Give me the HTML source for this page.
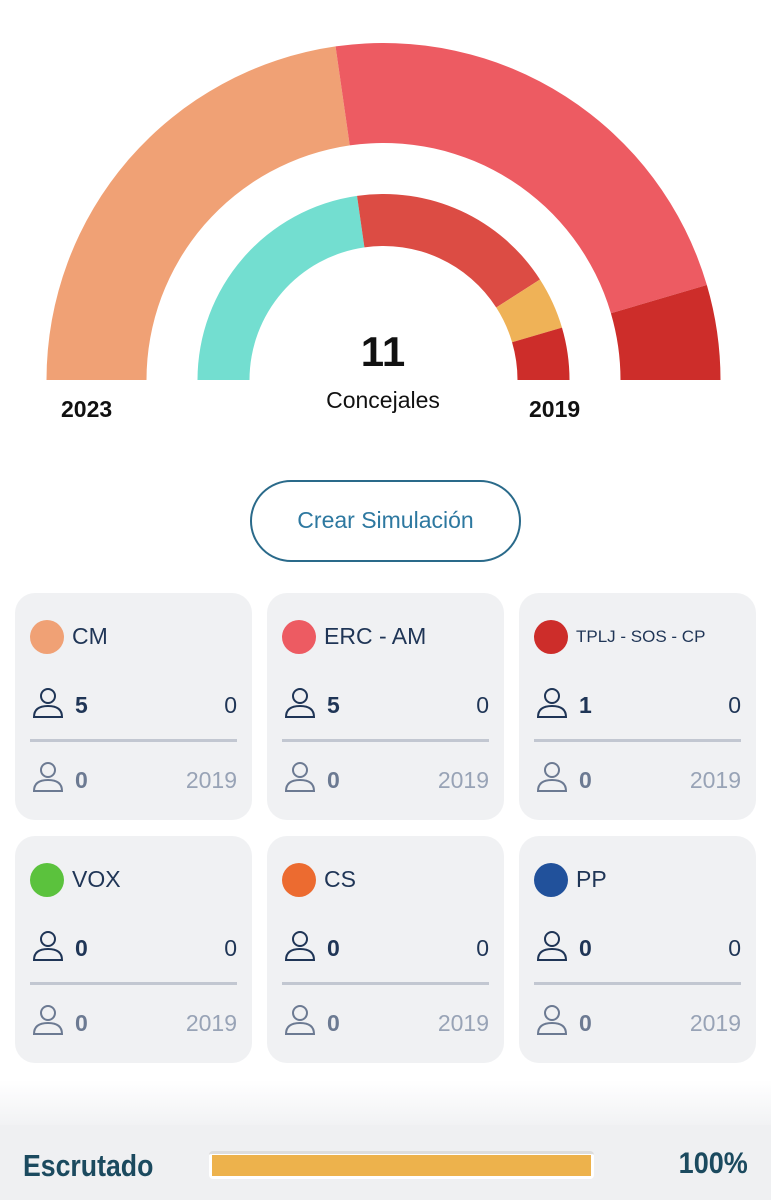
<!DOCTYPE html>
<html><head><meta charset="utf-8"><style>
*{margin:0;padding:0;box-sizing:border-box}
body{width:771px;height:1200px;background:#fff;position:relative;overflow:hidden;font-family:"Liberation Sans",sans-serif}
.abs{position:absolute}
.card{position:absolute;width:237px;height:227px;background:#f0f1f3;border-radius:20px}
.dot{position:absolute;left:15px;top:27px;width:34px;height:34px;border-radius:50%}
.name{position:absolute;left:57px;top:30px;font-size:23px;color:#1f3556}
.ic{position:absolute;left:18px}
.n{position:absolute;left:60px;font-size:23px;font-weight:bold}
.r{position:absolute;right:15px;font-size:23px}
.div{position:absolute;left:15px;right:15px;top:146px;height:3px;background:#c2c7d1}
</style></head><body>
<svg class="abs" style="left:0;top:0" width="771" height="440" id="ch"></svg>
<div class="abs" style="left:0;width:766px;top:328px;text-align:center;font-size:42px;font-weight:bold;color:#111">11</div>
<div class="abs" style="left:0;width:766px;top:387px;text-align:center;font-size:23px;color:#111">Concejales</div>
<div class="abs" style="left:61px;top:396px;font-size:23px;font-weight:bold;color:#111">2023</div>
<div class="abs" style="left:529px;top:396px;font-size:23px;font-weight:bold;color:#111">2019</div>
<div class="abs" style="left:250px;top:480px;width:271px;height:82px;border:2.5px solid #2a6a8a;border-radius:41px;text-align:center;line-height:77px;font-size:23px;color:#2d78a0">Crear Simulación</div>
<div id="cards"></div>
<div class="abs" style="left:0;top:1080px;width:771px;height:46px;background:linear-gradient(#fff,#f1f2f4)"></div>
<div class="abs" style="left:0;top:1125px;width:771px;height:75px;background:#eff0f2"></div>
<div class="abs" style="left:23px;top:1148px;font-size:31px;font-weight:bold;color:#1b4a5f;transform:scaleX(0.86);transform-origin:left">Escrutado</div>
<div class="abs" style="left:209px;top:1151px;width:385px;height:28px;background:#fff;border-radius:4px;border-top:3px solid #ddd"></div>
<div class="abs" style="left:212px;top:1155px;width:379px;height:21px;background:#edb24c"></div>
<div class="abs" style="right:23px;top:1147px;font-size:30px;font-weight:bold;color:#1b4a5f;transform:scaleX(0.9);transform-origin:right">100%</div>
<script>
var cx=383.5,cy=380,s=document.getElementById('ch'),h='';
function arc(r1,r2,a1,a2,c){function p(r,a){a=Math.PI*(1-a/180);return (cx+r*Math.cos(a)).toFixed(2)+' '+(cy-r*Math.sin(a)).toFixed(2)}
h+='<path fill="'+c+'" d="M'+p(r2,a1)+' A'+r2+' '+r2+' 0 0 1 '+p(r2,a2)+' L'+p(r1,a2)+' A'+r1+' '+r1+' 0 0 0 '+p(r1,a1)+'Z"/>';}
var u=180/11;
arc(237,337,0,5*u,'#f0a175');arc(237,337,5*u,10*u,'#ed5b62');arc(237,337,10*u,180,'#cd2d2a');
arc(134,186,0,5*u,'#73ded0');arc(134,186,5*u,9*u,'#dc4c44');arc(134,186,9*u,10*u,'#efb257');arc(134,186,10*u,180,'#cd2d2a');
s.innerHTML=h;
var d=[['CM','#f0a175',5],['ERC - AM','#ed5b62',5],['TPLJ - SOS - CP','#cd2d2a',1],['VOX','#5bc23d',0],['CS','#ec6b30',0],['PP','#21519b',0]];
var xs=[15,267,519],ys=[593,836],o='';
function icon(t,c){return '<svg class="ic" style="top:'+t+'px" width="32" height="32" viewBox="0 0 32 32"><circle cx="15" cy="9" r="7" fill="none" stroke="'+c+'" stroke-width="2"/><path d="M1 30 Q1 19 15 19 Q29 19 29 30 Z" fill="none" stroke="'+c+'" stroke-width="2"/></svg>';}
d.forEach(function(e,i){var x=xs[i%3],y=ys[Math.floor(i/3)];
o+='<div class="card" style="left:'+x+'px;top:'+y+'px"><div class="dot" style="background:'+e[1]+'"></div><div class="name" style="'+(e[0].length>10?'font-size:17px;top:34px':'')+'">'+e[0]+'</div>'+
icon(94,'#1f3556')+'<div class="n" style="top:99px;color:#1f3556">'+e[2]+'</div><div class="r" style="top:99px;color:#1f3556">0</div><div class="div"></div>'+
icon(168,'#6c7a92')+'<div class="n" style="top:174px;color:#6c7a92">0</div><div class="r" style="top:174px;color:#98a3b6">2019</div></div>';});
document.getElementById('cards').innerHTML=o;
</script>
</body></html>
